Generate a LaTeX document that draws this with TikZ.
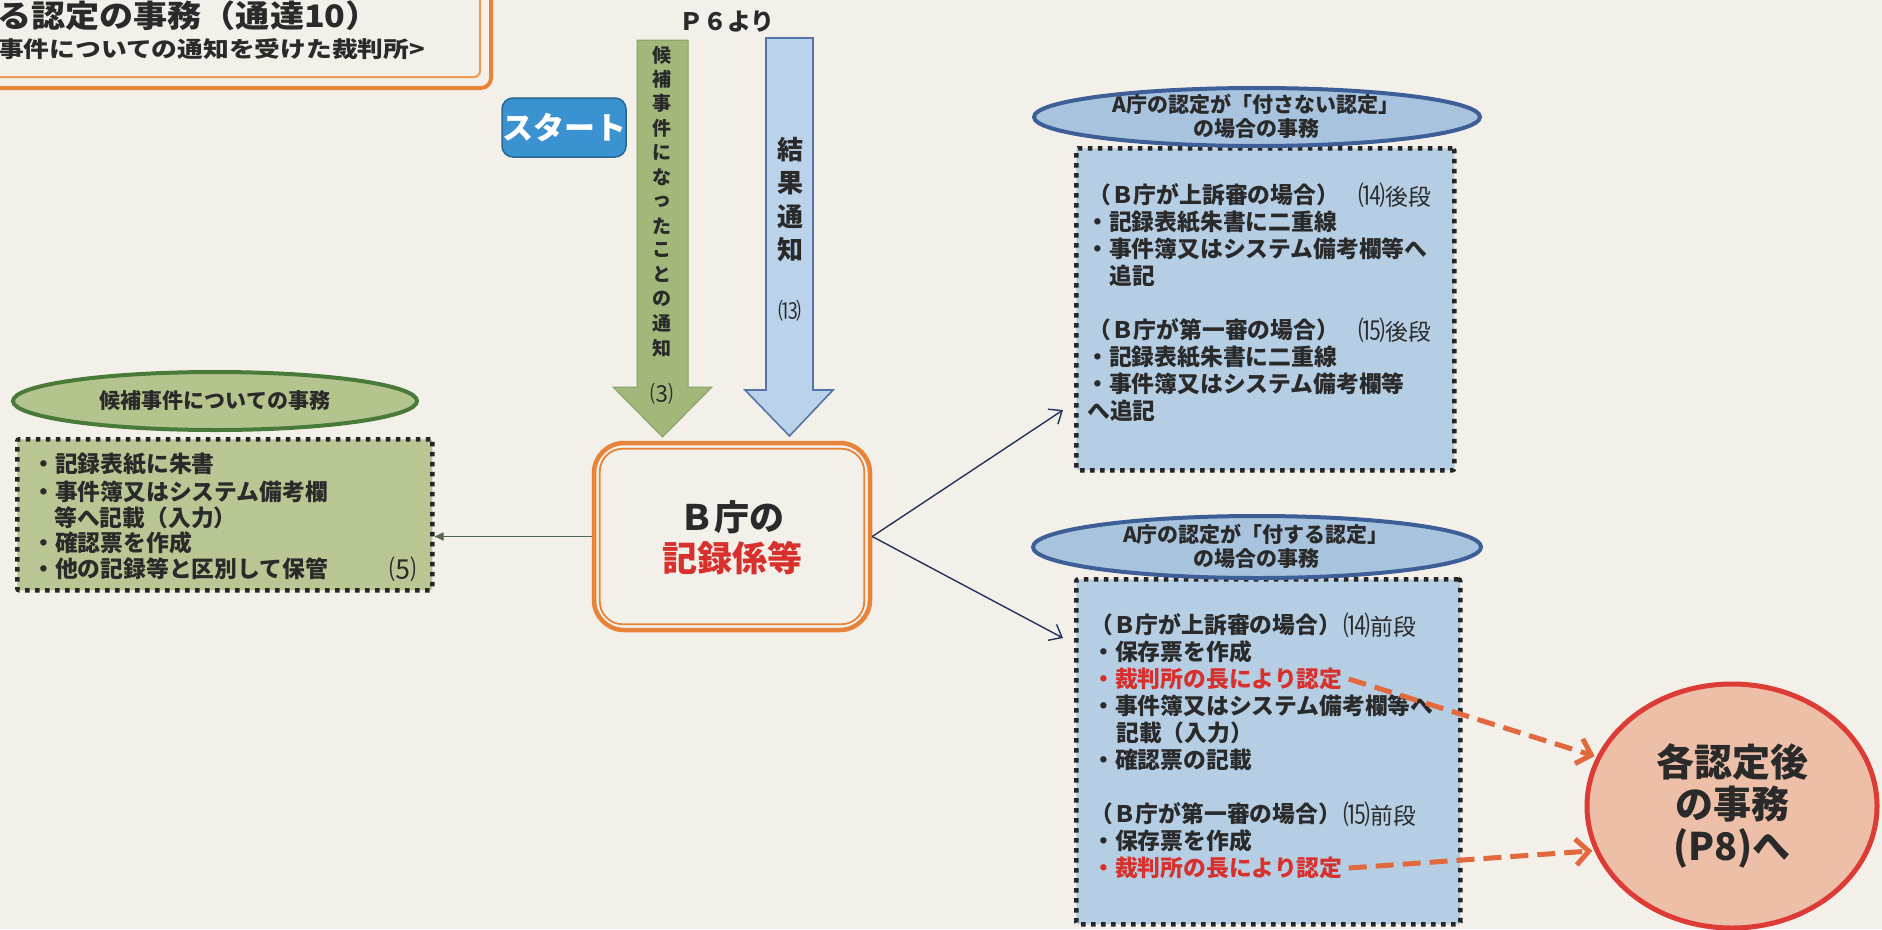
\documentclass[tikz,border=0pt]{standalone}
\usepackage{fontspec}
\setmainfont{Noto Sans CJK JP}
\usetikzlibrary{arrows.meta,shapes.geometric}
\definecolor{paper}{HTML}{F2F0E9}
\definecolor{grbox}{HTML}{B8C694}
\definecolor{grarrow}{HTML}{A2B87B}
\definecolor{grarrowline}{HTML}{86A062}
\definecolor{grell}{HTML}{B4C48D}
\definecolor{grdark}{HTML}{4A7A3A}
\definecolor{blbox}{HTML}{B5CEE4}
\definecolor{blell}{HTML}{A8C3DD}
\definecolor{bldark}{HTML}{3D5E96}
\definecolor{blarrow}{HTML}{BAD3EA}
\definecolor{blarrowline}{HTML}{5573A6}
\definecolor{orng}{HTML}{E8843A}
\definecolor{orngl}{HTML}{EC9A55}
\definecolor{redtxt}{HTML}{D8302C}
\definecolor{dashred}{HTML}{E2683E}
\definecolor{circfill}{HTML}{EDBFA9}
\definecolor{circline}{HTML}{DD3B35}
\definecolor{navy}{HTML}{27315E}
\definecolor{ink}{HTML}{2A2A2A}
\definecolor{startblue}{HTML}{3A93D0}
\definecolor{leftarrow}{HTML}{55684F}
\newcommand{\pnum}[1]{{\fontsize{27}{27}\selectfont #1}}
\begin{document}
\begin{tikzpicture}[x=1pt,y=-1pt,
  body/.style={anchor=west, inner sep=0pt, text=ink, font=\fontsize{22.8}{27}\selectfont\bfseries},
  bodyn/.style={body, font=\fontsize{22.8}{27}\selectfont\mdseries},
  redbody/.style={body, text=redtxt},
  elltxt/.style={inner sep=0pt, text=ink, align=center, font=\fontsize{21}{24}\selectfont\bfseries},
  dotbox/.style={draw=black!85, line width=4.5pt, dash pattern=on 4.5pt off 5.5pt, rounded corners=2pt, inner sep=0pt, anchor=north west},
  ovalg/.style={ellipse, draw=grdark, line width=4pt, fill=grell, inner sep=0pt},
  ovalb/.style={ellipse, draw=bldark, line width=4pt, fill=blell, inner sep=0pt},
  thinarrow/.style={draw=navy, line width=1.4pt, -{Straight Barb[length=11pt,width=18pt]}},
  greenarrowline/.style={draw=leftarrow, line width=1.6pt, -{Triangle[length=9pt,width=8pt]}},
  reddash/.style={draw=dashred, line width=5pt, dash pattern=on 18pt off 9pt, -{Straight Barb[length=13pt,width=26pt]}, shorten >=2pt},
  vch/.style={inner sep=0pt, text=ink, font=\fontsize{19}{19}\selectfont\bfseries},
  vchb/.style={inner sep=0pt, text=ink, font=\fontsize{26}{26}\selectfont\bfseries},
]
\useasboundingbox (0,0) rectangle (1882,929);
\fill[paper] (0,0) rectangle (1882,929);
\clip (0,0) rectangle (1882,929);

% title box
\draw[orng, line width=4pt, rounded corners=10pt] (-40,-40) rectangle (491,88);
\draw[orngl, line width=2pt, rounded corners=6pt] (-30,-30) rectangle (480,77);
\node[anchor=west, inner sep=0pt, text=ink, xscale=1.1, font=\fontsize{31}{31}\selectfont\bfseries] (title) at (-3,16) {る認定の事務（通達10）};
\node[anchor=west, inner sep=0pt, text=ink, xscale=1.17, font=\fontsize{22}{22}\selectfont\bfseries] (subtitle) at (-2,49) {事件についての通知を受けた裁判所>};

% P6 label and start badge
\node[inner sep=0pt, text=ink, font=\fontsize{24}{24}\selectfont\bfseries] (p6) at (727,22) {Ｐ６より};
\node[fill=startblue, draw=startblue!70!black, line width=1.5pt, rounded corners=11pt, minimum width=122pt, minimum height=59pt, inner sep=0pt, text=white, font=\fontsize{31}{31}\selectfont\bfseries] (start) at (564,127.5) {スタート};

% block arrows
\filldraw[fill=grarrow, draw=grarrowline, line width=1pt] (637,40) -- (688,40) -- (688,387) -- (712,387) -- (662.5,437) -- (613,387) -- (637,387) -- cycle;
\filldraw[fill=blarrow, draw=blarrowline, line width=1.6pt] (766,38) -- (813,38) -- (813,390) -- (833,390) -- (789.5,436) -- (745,390) -- (766,390) -- cycle;
\foreach \c [count=\i] in {候,補,事,件,に,な,っ,た,こ,と,の,通,知}
  \node[vch] (gv\i) at ({662},{55+24.4*(\i-1)}) {\c};
\node[inner sep=0pt, text=ink, font=\fontsize{23}{23}\selectfont] (g3n) at (662,394) {⑶};
\foreach \c [count=\i] in {結,果,通,知}
  \node[vchb] (bv\i) at ({790},{150+33.3*(\i-1)}) {\c};
\node[inner sep=0pt, text=ink, font=\fontsize{23}{23}\selectfont] (b13n) at (790,311) {⒀};

% central box
\node[draw=orng, line width=4.5pt, rounded corners=30pt, minimum width=276pt, minimum height=187pt, fill=paper, inner sep=0pt] (bbox) at (732,536.5) {};
\draw[orng, line width=1.8pt, rounded corners=23pt] ([shift={(8,8)}]bbox.north west) rectangle ([shift={(-8,-8)}]bbox.south east);
\node[inner sep=0pt, text=ink, font=\fontsize{35}{35}\selectfont\bfseries] (bt1) at (732,517) {Ｂ庁の};
\node[inner sep=0pt, text=redtxt, font=\fontsize{35}{35}\selectfont\bfseries] (bt2) at (732,558) {記録係等};

% left green box
\node[dotbox, fill=grbox, minimum width=415pt, minimum height=151pt] (gbox) at (15,437) {};
\node[ovalg, minimum width=404pt, minimum height=58pt] (gell) at (215,401) {};
\node[elltxt] (gellt) at (215,401) {候補事件についての事務};
\node[body] (g1) at (32,464) {・記録表紙に朱書};
\node[body] (g2) at (32,492) {・事件簿又はシステム備考欄};
\node[body] (g3) at (54,518) {等へ記載（入力）};
\node[body] (g4) at (32,543) {・確認票を作成};
\node[body] (g5) at (32,569) {・他の記録等と区別して保管};
\node[bodyn] (g5n) at (389,569) {\pnum{⑸}};

% upper blue box
\node[dotbox, fill=blbox, minimum width=378pt, minimum height=322pt] (ubox) at (1074,146) {};
\node[ovalb, minimum width=446pt, minimum height=58pt] (uell) at (1257,117) {};
\node[elltxt] (uellt) at (1256,116.5) {A庁の認定が「付さない認定」\\の場合の事務};
\node[body] (u1) at (1088,195) {（Ｂ庁が上訴審の場合）};
\node[bodyn] (u1n) at (1358,195) {\pnum{⒁}後段};
\node[body] (u2) at (1086,222) {・記録表紙朱書に二重線};
\node[body] (u3) at (1086,249) {・事件簿又はシステム備考欄等へ};
\node[body] (u4) at (1109,276) {追記};
\node[body] (u5) at (1088,330) {（Ｂ庁が第一審の場合）};
\node[bodyn] (u5n) at (1358,330) {\pnum{⒂}後段};
\node[body] (u6) at (1086,357) {・記録表紙朱書に二重線};
\node[body] (u7) at (1086,384) {・事件簿又はシステム備考欄等};
\node[body] (u8) at (1087,411) {へ追記};

% lower blue box
\node[dotbox, fill=blbox, minimum width=384pt, minimum height=345pt] (dbox) at (1074,577) {};
\node[ovalb, minimum width=448pt, minimum height=62pt] (dell) at (1257,547) {};
\node[elltxt] (dellt) at (1256,546.5) {A庁の認定が「付する認定」\\の場合の事務};
\node[body] (d1) at (1090,625) {（Ｂ庁が上訴審の場合）};
\node[bodyn] (d1n) at (1343,625) {\pnum{⒁}前段};
\node[body] (d2) at (1092,652) {・保存票を作成};
\node[redbody] (d3) at (1092,679) {・裁判所の長により認定};
\node[body] (d4) at (1092,706) {・事件簿又はシステム備考欄等へ};
\node[body] (d5) at (1116,733) {記載（入力）};
\node[body] (d6) at (1092,760) {・確認票の記載};
\node[body] (d7) at (1090,814) {（Ｂ庁が第一審の場合）};
\node[bodyn] (d7n) at (1343,814) {\pnum{⒂}前段};
\node[body] (d8) at (1092,841) {・保存票を作成};
\node[redbody] (d9) at (1092,868) {・裁判所の長により認定};

% circle
\node[ellipse, draw=circline, line width=5pt, fill=circfill, minimum width=290pt, minimum height=244pt, inner sep=0pt, align=center, text=ink, font=\fontsize{38}{42}\selectfont\bfseries] (circ) at (1732,806) {各認定後\\の事務\\(P8)へ};

% connectors
\coordinate (ua) at (1063,410);
\coordinate (la) at (1063,638);
\draw[thinarrow] (bbox.east) -- (ua);
\draw[thinarrow] (bbox.east) -- (la);
\draw[greenarrowline] (bbox.west) -- (bbox.west -| gbox.east);
\coordinate (r1) at ([xshift=6pt]d3.east);
\coordinate (r2) at ([xshift=6pt]d9.east);
\draw[reddash] (r1) -- (circ.160);
\draw[reddash] (r2) -- (circ.198);
\end{tikzpicture}
\end{document}
